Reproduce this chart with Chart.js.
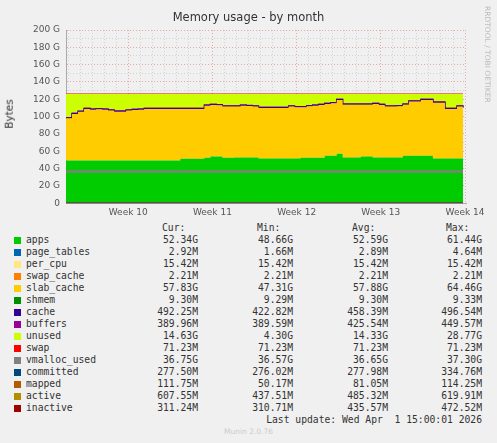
<!DOCTYPE html>
<html><head><meta charset="utf-8">
<script src="https://cdn.jsdelivr.net/npm/chart.js@4/dist/chart.umd.min.js"></script>
<style>
body{margin:0;background:#f0f0f0;width:497px;height:443px;overflow:hidden;position:relative;font-family:"DejaVu Sans",sans-serif}
#wrap{position:absolute;left:0;top:0;width:497px;height:222px}
.t{position:absolute;white-space:pre;font-family:"DejaVu Sans Mono",monospace;font-size:9.7px;color:#333}
.r{text-align:right}
.sw{position:absolute;width:7px;height:7px}
</style></head><body>
<div id="wrap"><canvas id="c" width="497" height="222"></canvas></div>
<div style="position:absolute;left:0;width:497px;top:10px;text-align:center;font-size:11.5px;color:#333">Memory usage - by month</div>
<div style="position:absolute;left:-6px;top:108px;transform:rotate(-90deg);font-size:10.5px;color:#333">Bytes</div>
<div style="position:absolute;transform:rotate(90deg);transform-origin:left top;font-size:7.5px;color:#bbb;white-space:nowrap;left:492px;top:6px">RRDTOOL / TOBI OETIKER</div>
<div id="leg"></div>
<script>
const days=[];for(let i=0;i<67;i++)days.push(i*0.5);
const weekLabels=["Week 10","Week 11","Week 12","Week 13","Week 14"];
const weekPos=[5.17,12.17,19.17,26.17,33.17];
const apps=[49.4,49.4,49.4,49.4,49.4,49.4,49.4,49.4,49.4,49.4,49.4,49.4,49.4,49.4,49.4,49.4,49.4,49.4,49.4,51.3,51.3,51.3,51.3,52.4,53.9,53.9,52.4,52.4,52.8,52.8,52.8,52.8,51.7,51.7,51.7,51.7,51.7,51.7,51.7,52.4,52.4,52.4,52.4,54.8,54.8,57.1,52.8,52.8,52.8,53.9,53.9,52.8,52.8,52.8,52.8,52.8,54.8,54.8,54.8,54.8,54.8,51.7,51.7,51.7,51.7,51.7,51.7];
const slab=[48.6,53.6,56.1,59.4,58.6,59.0,58.6,57.5,56.3,56.3,57.5,58.2,58.6,59.4,59.4,59.4,59.4,59.4,59.4,57.5,57.5,57.5,57.5,60.2,59.5,59.1,59.1,59.1,58.7,59.8,59.4,58.7,58.3,58.3,58.3,58.3,58.3,59.8,59.0,58.3,59.5,60.2,61.0,59.8,60.5,62.1,61.0,61.0,61.0,59.9,59.9,61.8,60.6,58.7,58.7,59.1,59.0,62.5,62.5,64.4,64.4,64.4,64.4,57.1,57.1,59.8,58.3];
const unused=[27.1,22.1,19.6,16.3,17.1,16.7,17.1,18.2,19.4,19.4,18.2,17.5,17.1,16.3,16.3,16.3,16.3,16.3,16.3,16.3,16.3,16.3,16.3,12.5,11.7,12.1,13.6,13.6,13.6,12.5,12.9,13.6,15.1,15.1,15.1,15.1,15.1,13.6,14.4,14.4,13.2,12.5,11.7,10.5,9.8,5.9,11.3,11.3,11.3,11.3,11.3,10.5,11.7,13.6,13.6,13.2,11.3,7.8,7.8,5.9,5.9,9.0,9.0,16.3,16.3,13.6,15.1];
const n=days.length;
const pageTables=Array(n).fill(0.003),perCpu=Array(n).fill(0.015),swapCache=Array(n).fill(0.002),shmem=Array(n).fill(0.009);
const cache=Array(n).fill(0.46),buffers=Array(n).fill(0.43),swap=Array(n).fill(0.07);
const vmalloc=Array(n).fill(36.7),committed=Array(n).fill(0.28),mapped=Array(n).fill(0.08),active=Array(n).fill(0.49),inactive=Array(n).fill(0.44);
const pts=a=>a.map((v,i)=>({x:days[i],y:v}));
const area=(label,data,color,border,first)=>({label,data:pts(data),backgroundColor:color,borderColor:border||color,borderWidth:border?1.2:0,fill:first?'origin':'-1',stack:'a',pointRadius:0,stepped:true,order:1});
const line=(label,data,color,w,k)=>({label,data:pts(data),borderColor:color,backgroundColor:color,borderWidth:w,fill:false,stack:'l'+k,pointRadius:0,stepped:true,order:0});
const ds=[area('apps',apps,'#00CC00',null,true),area('page_tables',pageTables,'#0066B3'),area('per_cpu',perCpu,'#FFE680'),area('swap_cache',swapCache,'#FF8000'),area('slab_cache',slab,'#FFCC00'),area('shmem',shmem,'#008F00'),area('cache',cache,'#330099','#330099'),area('buffers',buffers,'#990099','#990099'),area('unused',unused,'#CCFF00'),area('swap',swap,'#FF0000','#FF0000'),
line('vmalloc_used',vmalloc,'#808080',2.5,1),line('committed',committed,'#00487D',1,2),line('mapped',mapped,'#B35A00',1,3),line('active',active,'#B38F00',1,4),line('inactive',inactive,'#9F0000',1,5)];
new Chart(document.getElementById('c'),{type:'line',data:{datasets:ds},options:{
animation:false,responsive:false,layout:{padding:{left:27,right:31,top:30,bottom:0}},
plugins:{legend:{display:false},tooltip:{enabled:false}},
scales:{
x:{type:'linear',min:0,max:33.25,
 afterBuildTicks:ax=>{const t=[];for(let k=-5;k<=28;k++){const v=5.17+k;if(v>=0&&v<=33.25)t.push({value:v});}ax.ticks=t;},
 ticks:{autoSkip:false,maxRotation:0,color:'#555',font:{size:9,family:'DejaVu Sans'},padding:4,callback:v=>{const i=weekPos.findIndex(p=>Math.abs(p-v)<0.01);return i>=0?weekLabels[i]:'';}},
 grid:{color:c=>weekPos.some(p=>Math.abs(p-c.tick.value)<0.01)?'rgba(230,120,120,0.6)':'rgba(190,190,190,0.6)',drawTicks:false},border:{dash:[1,2],color:'#aaa'}},
y:{stacked:true,min:0,max:200,
 afterBuildTicks:ax=>{const t=[];for(let v=0;v<=200;v+=10)t.push({value:v});ax.ticks=t;},
 ticks:{autoSkip:false,color:'#555',font:{size:9,family:'DejaVu Sans'},padding:6,callback:v=>v%20?'':(v===0?'0':v+' G')},
 grid:{color:c=>c.tick.value%20?'rgba(190,190,190,0.6)':'rgba(230,120,120,0.6)',drawTicks:false},border:{dash:[1,2],color:'#aaa'}}
}}});
const legend=[['apps','#00CC00','52.34G','48.66G','52.59G','61.44G'],['page_tables','#0066B3','2.92M','1.66M','2.89M','4.64M'],['per_cpu','#FFE680','15.42M','15.42M','15.42M','15.42M'],['swap_cache','#FF8000','2.21M','2.21M','2.21M','2.21M'],['slab_cache','#FFCC00','57.83G','47.31G','57.88G','64.46G'],['shmem','#008F00','9.30M','9.29M','9.30M','9.33M'],['cache','#330099','492.25M','422.82M','458.39M','496.54M'],['buffers','#990099','389.96M','389.59M','425.54M','449.57M'],['unused','#CCFF00','14.63G','4.30G','14.33G','28.77G'],['swap','#FF0000','71.23M','71.23M','71.23M','71.23M'],['vmalloc_used','#808080','36.75G','36.57G','36.65G','37.30G'],['committed','#00487D','277.50M','276.02M','277.98M','334.76M'],['mapped','#B35A00','111.75M','50.17M','81.05M','114.25M'],['active','#B38F00','607.55M','437.51M','485.32M','619.91M'],['inactive','#9F0000','311.24M','310.71M','435.57M','472.52M']];
let h='';const cols=[198,293,388,482];
['Cur:','Min:','Avg:','Max:'].forEach((s,j)=>h+=`<div class="t" style="left:${cols[j]-36}px;top:222px">${s}</div>`);
legend.forEach((r,i)=>{const y=234+i*12;h+=`<div class="sw" style="left:14px;top:${y+3}px;background:${r[1]}"></div><div class="t" style="left:26px;top:${y}px">${r[0]}</div>`;
for(let j=0;j<4;j++)h+=`<div class="t r" style="left:${cols[j]-80}px;width:80px;top:${y}px">${r[j+2]}</div>`;});
h+=`<div class="t r" style="left:200px;width:282px;top:414px">Last update: Wed Apr  1 15:00:01 2026</div>`;
h+=`<div style="position:absolute;left:0;width:497px;text-align:center;top:427px;font-size:7.5px;color:#ccc">Munin 2.0.76</div>`;
document.getElementById('leg').innerHTML=h;
</script></body></html>
